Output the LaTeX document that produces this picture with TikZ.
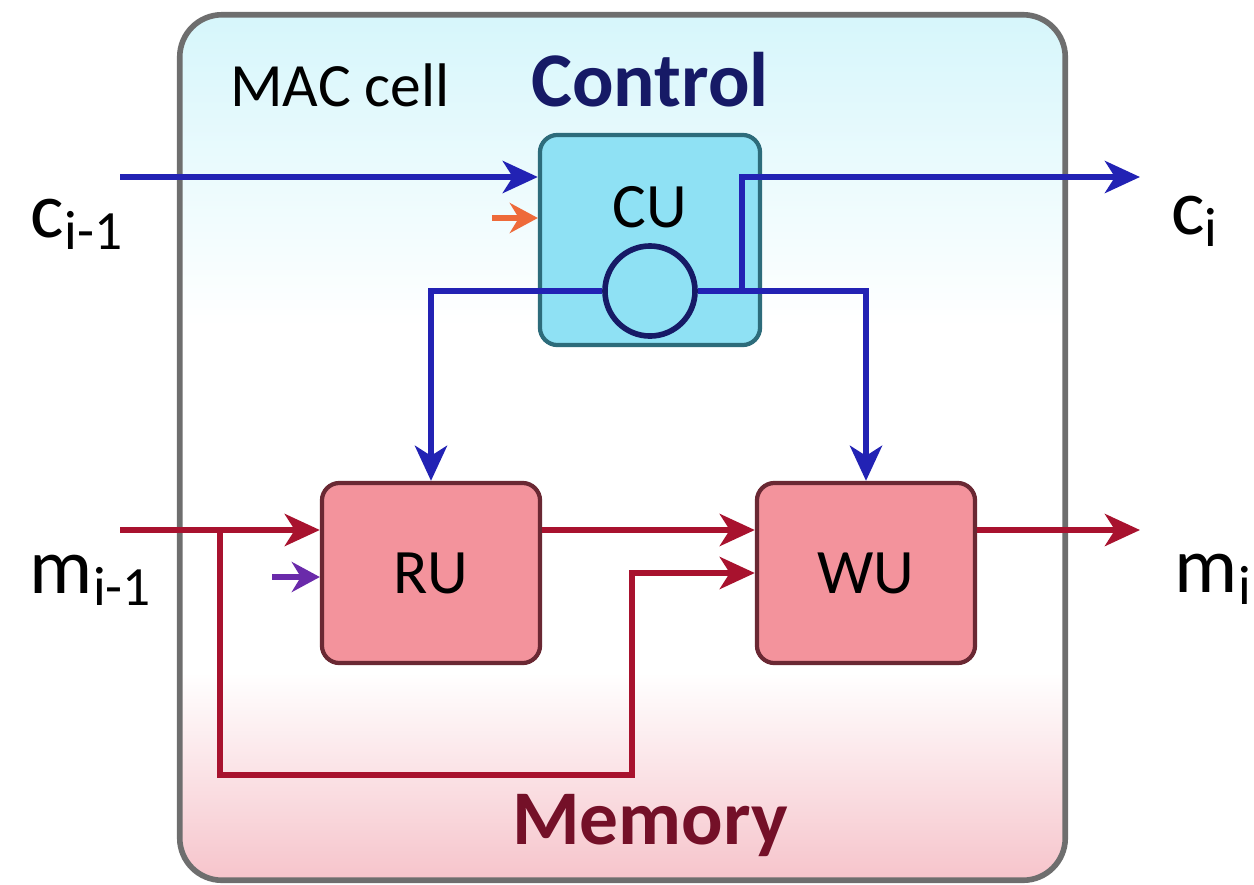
\documentclass[tikz,border=0pt]{standalone}
\usepackage{fontspec}
\setmainfont{Carlito}
\usetikzlibrary{arrows.meta, positioning, calc}
\definecolor{cblue}{HTML}{2222B4}
\definecolor{cred}{HTML}{A8122E}
\definecolor{cnavy}{HTML}{161A66}
\definecolor{cwine}{HTML}{741028}
\definecolor{corange}{HTML}{EE6A3A}
\definecolor{cpurple}{HTML}{6A2AAA}
\definecolor{cgrey}{HTML}{6E6E6E}
\definecolor{ccyanfill}{HTML}{8FE1F4}
\definecolor{ccyanline}{HTML}{2D6C7B}
\definecolor{cpinkfill}{HTML}{F3939C}
\definecolor{cpinkline}{HTML}{6A2833}
\definecolor{ctopbg}{HTML}{D6F6FB}
\definecolor{cbotbg}{HTML}{F6C4CB}
\pgfdeclareverticalshading{cellfade}{100bp}{color(0bp)=(cbotbg); color(25bp)=(cbotbg); color(37bp)=(white); color(57bp)=(white); color(75bp)=(ctopbg); color(100bp)=(ctopbg)}
\tikzset{
  every picture/.style={line width=1.7pt},
  cubox/.style={draw=ccyanline, fill=ccyanfill, line width=1.2pt, rounded corners=5pt, minimum width=2.2cm, minimum height=2.1cm},
  mbox/.style={draw=cpinkline, fill=cpinkfill, line width=1.2pt, rounded corners=5pt, minimum width=2.18cm, minimum height=1.8cm, font=\fontsize{18}{20}\selectfont},
  barrow/.style={-{Stealth[length=3.5mm, width=3.2mm, inset=1mm]}, draw=cblue},
  rarrow/.style={-{Stealth[length=3.5mm, width=3.2mm, inset=1mm]}, draw=cred},
  small/.style={-{Stealth[length=2.8mm, width=3mm, inset=0.9mm]}, line width=1.6pt},
  io/.style={font=\fontsize{22.5}{26}\selectfont, anchor=base west, inner sep=0pt},
  title/.style={font=\fontsize{22}{24}\selectfont\bfseries},
}

\begin{document}
\begin{tikzpicture}[x=0.01cm, y=-0.01cm]
  \useasboundingbox (0,0) rectangle (1254,884);
  % the cell
  \node[draw=cgrey, line width=1.6pt, rounded corners=12pt, minimum width=8.85cm, minimum height=8.65cm,
        shading=cellfade] (mac) at (622.5,447.5) {};
  \node[font=\fontsize{17.5}{20}\selectfont] (maclab) at (340,85) {MAC cell};
  \node[title, text=cnavy] (ctrl) at (650,80) {Control};
  \node[title, text=cwine] (mem) at (650,825) {Memory};

  % units
  \node[cubox] (cu) at (650,240) {};
  \node[font=\fontsize{18}{20}\selectfont] (cutext) at (650,207) {CU};
  \node[circle, draw=cnavy, line width=1.6pt, minimum size=0.9cm, inner sep=0pt] (gate) at (650,291) {};
  \node[mbox] (ru) at (431,573) {RU};
  \node[mbox] (wu) at (866,573) {WU};

  % free ends
  \coordinate (cin) at (120,177);
  \coordinate (cout) at (1140,177);
  \coordinate (tap) at (742,291);
  \coordinate (oin) at (492,218);
  \coordinate (min) at (120,530);
  \coordinate (mout) at (1140,530);
  \coordinate (split) at (220,530);
  \coordinate (low) at (632,775);
  \coordinate (pin) at (272,577);

  % control path
  \draw[barrow] (cin) -- (cu.west |- cin);
  \draw[small, draw=corange] (oin) -- (cu.west |- oin);
  \draw[barrow] (gate.west) -| (ru.north);
  \draw[barrow] (gate.east) -| (wu.north);
  \draw[barrow] (tap) |- (cout);

  % memory path
  \draw[rarrow] (min) -- (ru.west |- min);
  \draw[rarrow] (split) |- (low) |- (wu.west);
  \draw[rarrow] (ru.east |- min) -- (wu.west |- min);
  \draw[rarrow] (wu.east |- mout) -- (mout);
  \draw[small, draw=cpurple] (pin) -- (ru.west |- pin);

  % inputs and outputs
  \node[io] (clast) at (28,237) {c\textsubscript{i-1}};
  \node[io] (cnow) at (1168,234) {c\textsubscript{i}};
  \node[io] (mlast) at (27,593) {m\textsubscript{i-1}};
  \node[io] (mnow) at (1172,592) {m\textsubscript{i}};
\end{tikzpicture}
\end{document}
